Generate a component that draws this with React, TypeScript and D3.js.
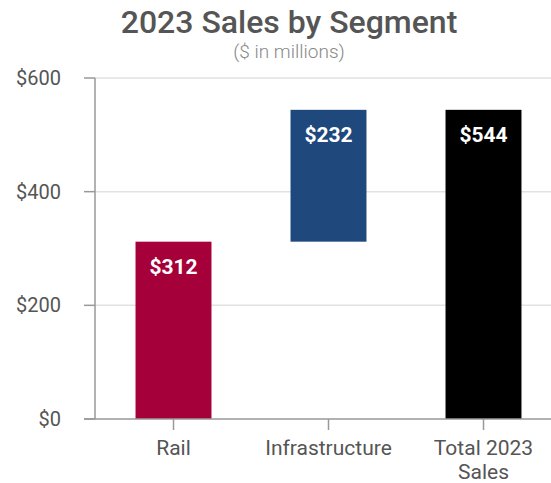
import React from 'react';
import * as d3 from 'd3';

const categories = ['Rail', 'Infrastructure', 'Total 2023 Sales'];
const starts = [0, 312, 0];
const ends = [312, 544, 544];
const labels = ['$312', '$232', '$544'];
const colors = ['#A6003A', '#1F497D', '#000000'];
const yTicks = [0, 200, 400, 600];

const W = 551;
const H = 483;

const App: React.FC = () => {
  const x = d3.scaleBand<string>()
    .domain(categories)
    .range([96, 561])
    .paddingInner(0.51)
    .paddingOuter(0.255);

  const y = d3.scaleLinear().domain([0, 600]).range([419, 78]);

  const axisX = 95;

  return (
    <svg width={W} height={H} style={{ position: 'absolute', left: 0, top: 0, background: '#fff' }}
      fontFamily="Roboto, sans-serif">
      {/* title */}
      <text x={289} y={33} textAnchor="middle" fontSize={32} fontWeight={500} fill="#555">
        2023 Sales by Segment
      </text>
      <text x={289} y={58} textAnchor="middle" fontSize={19} fontWeight={300} fill="#888">
        ($ in millions)
      </text>

      {/* gridlines */}
      {yTicks.filter(t => t > 0).map(t => (
        <line key={t} x1={axisX} x2={W} y1={y(t)} y2={y(t)} stroke="#e2e2e2" strokeWidth={1.5} />
      ))}

      {/* bars */}
      {categories.map((c, i) => (
        <rect key={c} x={x(c)} y={y(ends[i])} width={x.bandwidth()}
          height={y(starts[i]) - y(ends[i])} fill={colors[i]} />
      ))}
      {categories.map((c, i) => (
        <text key={c} x={(x(c) || 0) + x.bandwidth() / 2} y={y(ends[i]) + 32}
          textAnchor="middle" fontSize={21} fontWeight={700} fill="#fff">
          {labels[i]}
        </text>
      ))}

      {/* y axis */}
      <line x1={axisX} x2={axisX} y1={y(600)} y2={y(0)} stroke="#999" strokeWidth={1.5} />
      {yTicks.map(t => (
        <g key={t}>
          <line x1={axisX - 11} x2={axisX} y1={y(t)} y2={y(t)} stroke="#999" strokeWidth={1.5} />
          <text x={61} y={y(t) + 7} textAnchor="end" fontSize={20} fill="#555">
            {'$' + t}
          </text>
        </g>
      ))}

      {/* x axis */}
      <line x1={axisX - 11} x2={W} y1={y(0)} y2={y(0)} stroke="#999" strokeWidth={1.5} />
      {categories.map(c => {
        const cx = (x(c) || 0) + x.bandwidth() / 2;
        const words = c === 'Total 2023 Sales' ? ['Total 2023', 'Sales'] : [c];
        return (
          <g key={c}>
            <line x1={cx} x2={cx} y1={y(0)} y2={y(0) + 11} stroke="#999" strokeWidth={1.5} />
            {words.map((w, k) => (
              <text key={w} x={cx} y={y(0) + 36 + k * 24} textAnchor="middle" fontSize={21} fill="#555">
                {w}
              </text>
            ))}
          </g>
        );
      })}
    </svg>
  );
};

export default App;
